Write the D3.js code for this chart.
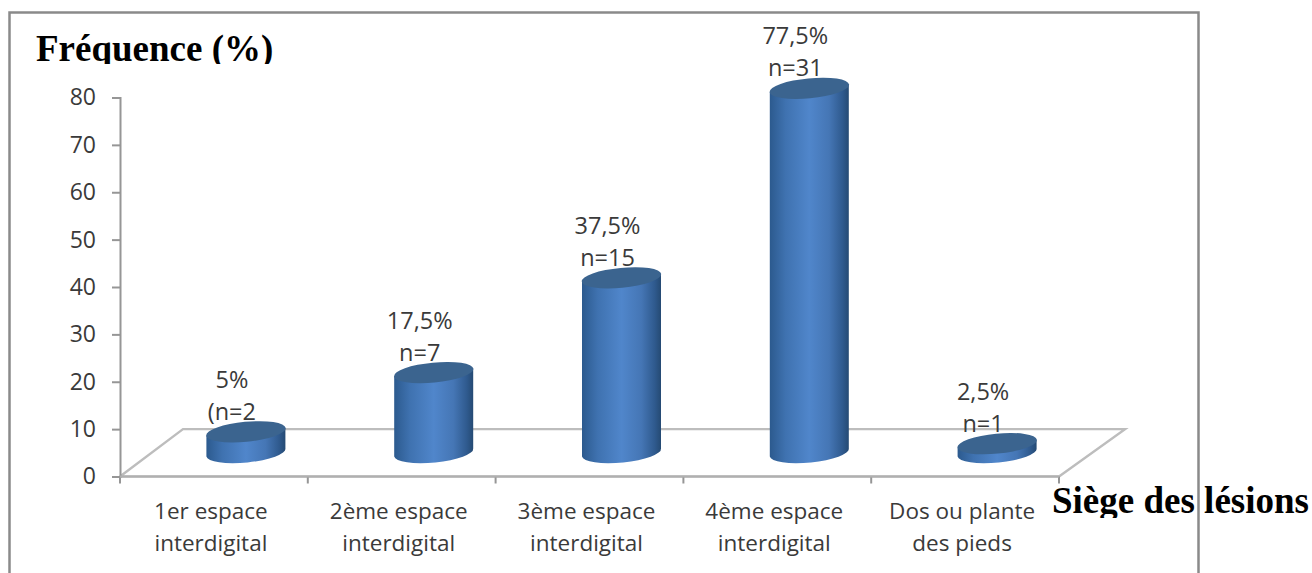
<!DOCTYPE html>
<html lang="fr">
<head>
<meta charset="utf-8">
<script src="https://cdn.jsdelivr.net/npm/d3@7/dist/d3.min.js"></script>
<style>
  html, body { margin: 0; padding: 0; background: #fff; }
  svg { display: block; }
  .tick text, .lab { font-family: "Open Sans", "Noto Sans", sans-serif; fill: #3a3a3a; }
  .axis-title { font-family: "Liberation Serif", serif; font-weight: bold; fill: #000; }
</style>
</head>
<body>
<svg id="chart" width="1312" height="573"></svg>
<script>
// Lesion sites and their share of cases
const categories = [
  ["1er espace", "interdigital"],
  ["2ème espace", "interdigital"],
  ["3ème espace", "interdigital"],
  ["4ème espace", "interdigital"],
  ["Dos ou plante", "des pieds"]
];
const percentages = [5, 17.5, 37.5, 77.5, 2.5];
const percentLabels = ["5%", "17,5%", "37,5%", "77,5%", "2,5%"];
const countLabels = ["(n=2", "n=7", "n=15", "n=31", "n=1"];
const yTicks = [0, 10, 20, 30, 40, 50, 60, 70, 80];

const svg = d3.select("#chart");
const defs = svg.append("defs");

const x = d3.scaleBand().domain(d3.range(categories.length)).range([120, 1059]);
const y = d3.scaleLinear().domain([0, 80]).range([476.5, 97.5]);

// Depth of the 3D floor and cylinder proportions
const depthX = 63, floorValue = 10;
const barShift = 32, rx = 39.5, ry = 10, tilt = 4, lift = 21, baseY = y(0) - 24;

// Outer frame, open at the bottom
svg.append("path")
  .attr("d", "M9.5,573V12.5H1198.5V573")
  .attr("fill", "none").attr("stroke", "#8a8a8a").attr("stroke-width", 2.5);

// Body shading runs left to right across each cylinder
const grad = defs.append("linearGradient").attr("id", "body");
[[0, "#2c5a8e"], [0.2, "#3f72b0"], [0.5, "#5086cb"], [0.75, "#4576b5"], [0.92, "#2f5a8e"], [1, "#254a73"]]
  .forEach(([o, c]) => grad.append("stop").attr("offset", o).attr("stop-color", c));

// Floor of the plot
const [x0, x1] = x.range();
svg.append("path")
  .attr("d", d3.line()([
    [x0, y(0)], [x0 + depthX, y(floorValue)], [x1 + depthX + 3, y(floorValue)], [x1, y(0)], [x0, y(0)]
  ]))
  .attr("fill", "#fff").attr("stroke", "#bdbdbd").attr("stroke-width", 2.4);

// Value axis
const yAxis = svg.append("g").attr("transform", `translate(${x0},0)`)
  .call(d3.axisLeft(y).tickValues(yTicks).tickSize(8).tickPadding(16));
yAxis.selectAll("path, line").attr("stroke", "#969696").attr("stroke-width", 2);
yAxis.selectAll("text").attr("font-size", 23);

// Category axis: ticks sit on band edges, labels in the middle of each band
const edges = d3.range(categories.length + 1).map(i => x0 + i * x.bandwidth());
svg.append("g").selectAll("line").data(edges).join("line")
  .attr("x1", d => d).attr("x2", d => d)
  .attr("y1", y(0)).attr("y2", y(0) + 7)
  .attr("stroke", "#969696").attr("stroke-width", 2);
svg.append("line")
  .attr("x1", x0).attr("x2", x1).attr("y1", y(0)).attr("y2", y(0))
  .attr("stroke", "#b0b0b0").attr("stroke-width", 2);

const xLabels = svg.append("g").selectAll("text").data(categories).join("text")
  .attr("class", "lab").attr("text-anchor", "middle").attr("font-size", 22.5);
xLabels.selectAll("tspan").data((d, i) => d.map(line => ({ line, i }))).join("tspan")
  .attr("x", d => x(d.i) + x.bandwidth() / 2 - 3)
  .attr("y", (d, j) => 519 + j * 32)
  .text(d => d.line);

// Cylinders
const bars = svg.append("g").selectAll("g").data(percentages).join("g");
const cx = (d, i) => x(i) + x.bandwidth() / 2 + barShift;
bars.append("path")
  .attr("fill", "url(#body)")
  .attr("d", (d, i) => {
    const c = cx(d, i), top = y(d) - lift;
    return `M${c - rx},${top + tilt}` +
      `L${c - rx},${baseY + tilt}` +
      `A${rx},${ry} -5.5 0 0 ${c + rx},${baseY - tilt}` +
      `L${c + rx},${top - tilt}Z`;
  });
bars.append("ellipse")
  .attr("rx", rx + 0.4).attr("ry", ry)
  .attr("fill", "#3b648f")
  .attr("transform", (d, i) => `translate(${cx(d, i)},${y(d) - lift}) rotate(-5.5)`);

// Data labels above each cylinder
const labelX = (d, i) => x(i) + x.bandwidth() / 2 + 18;
svg.append("g").selectAll("text").data(percentages).join("text")
  .attr("class", "lab").attr("text-anchor", "middle").attr("font-size", 23.5)
  .attr("x", labelX).attr("y", d => y(d) - 65)
  .text((d, i) => percentLabels[i]);
svg.append("g").selectAll("text").data(percentages).join("text")
  .attr("class", "lab").attr("text-anchor", "middle").attr("font-size", 23.5)
  .attr("x", labelX).attr("y", d => y(d) - 33)
  .text((d, i) => countLabels[i]);

// Axis titles sit in boxes that trim their descenders
defs.append("clipPath").attr("id", "clipY").append("rect")
  .attr("x", 30).attr("y", 20).attr("width", 260).attr("height", 44);
defs.append("clipPath").attr("id", "clipX").append("rect")
  .attr("x", 1045).attr("y", 480).attr("width", 267).attr("height", 38);
svg.append("text").attr("class", "axis-title").attr("clip-path", "url(#clipY)")
  .attr("x", 36).attr("y", 61).attr("font-size", 37).text("Fréquence (%)");
svg.append("text").attr("class", "axis-title").attr("clip-path", "url(#clipX)")
  .attr("x", 1052).attr("y", 513).attr("font-size", 37).text("Siège des lésions");
</script>
</body>
</html>
